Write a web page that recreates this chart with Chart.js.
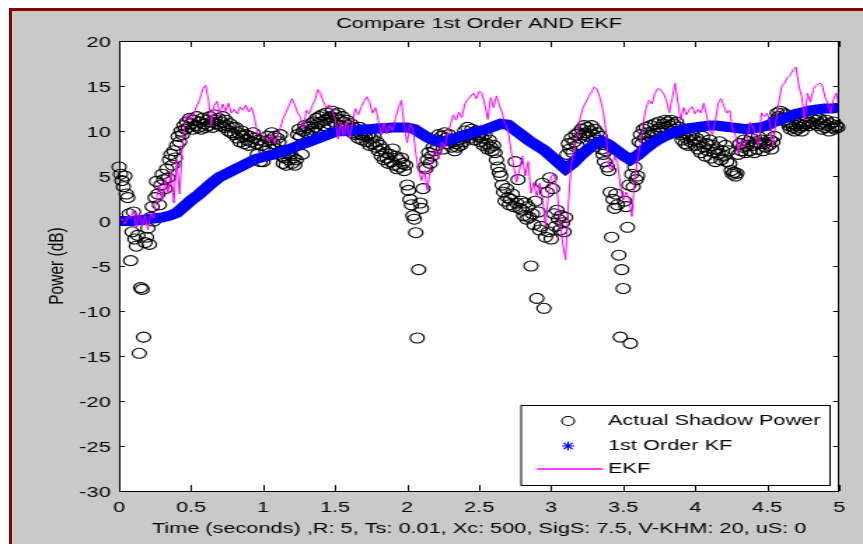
<!DOCTYPE html>
<html>
<head>
<meta charset="utf-8">
<title>Compare 1st Order AND EKF</title>
<script src="https://cdn.jsdelivr.net/npm/chart.js@4.4.0/dist/chart.umd.min.js"></script>
<style>
  html, body { margin: 0; padding: 0; background: #ffffff; }
  body { width: 863px; height: 544px; position: relative; overflow: hidden; }
  #figure {
    position: absolute; left: 9px; top: 8px; width: 854px; height: 536px;
    box-sizing: border-box; background: #c9c9c9;
    border-left: 3px solid #8b0000; border-top: 3px solid #8b0000;
  }
</style>
</head>
<body>
<div id="figure"></div>
<!-- the original screenshot is stretched sideways, so the canvas is too -->
<canvas id="shadowChart" width="616" height="544"
        style="position:absolute;left:0;top:0;width:863px;height:544px;"></canvas>
<script>
  "use strict";

  // ---- data ----
  const titleText = "Compare 1st Order AND EKF";
  const xLabelText = "Time (seconds) ,R: 5, Ts: 0.01, Xc: 500, SigS: 7.5, V-KHM: 20, uS: 0";
  const yLabelText = "Power (dB)";
  const seriesLabels = ["Actual Shadow Power", "1st Order KF", "EKF"];

  const xTicks = [0, 0.5, 1, 1.5, 2, 2.5, 3, 3.5, 4, 4.5, 5];
  const yTicks = [20, 15, 10, 5, 0, -5, -10, -15, -20, -25, -30];

  // sample spacing (s) of the lists below
  const actualStep = 0.01;
  const ekfStep = 0.02;
  const kfStep = 0.05;

  // circles, t = 0 .. 4.99 (one row = 0.2 s)
  const actualPower = [
    6.0, 5.2, 4.5, 3.8, 5.0, 3.0, 2.6, 0.8, -4.4, -1.2, 1.0, -2.0, -2.8, -1.6, -14.7, -7.4, -7.6, -12.9, -2.4, -1.8,
    -0.8, -2.6, 0.4, 1.6, 0.0, 2.6, 4.4, 3.0, 1.8, 4.0, 5.2, 4.6, 3.6, 5.8, 4.8, 6.8, 7.4, 6.2, 7.8, 7.0,
    8.4, 9.4, 8.8, 10.0, 9.6, 10.6, 10.2, 11.0, 10.4, 11.4, 10.8, 10.2, 11.2, 10.6, 11.6, 10.4, 11.0, 10.2, 11.4, 10.8,
    10.4, 11.2, 10.6, 11.6, 11.0, 10.4, 11.8, 11.2, 10.8, 11.4, 10.6, 11.0, 11.6, 10.4, 11.2, 10.6, 10.0, 10.8, 9.8, 10.4,
    9.6, 10.4, 9.2, 9.8, 8.8, 10.0, 9.4, 8.6, 9.6, 9.0, 8.4, 9.4, 8.8, 9.8, 9.2, 8.6, 7.4, 9.0, 6.6, 8.4,
    6.6, 8.8, 7.8, 9.4, 8.2, 9.0, 9.8, 8.6, 9.4, 8.0, 9.2, 8.8, 9.6, 7.2, 6.4, 7.0, 6.2, 7.6, 6.8, 7.4,
    6.4, 7.0, 6.2, 6.8, 9.6, 10.2, 9.4, 7.4, 10.0, 10.6, 9.8, 10.4, 9.6, 10.8, 10.2, 11.0, 10.4, 11.4, 10.8, 11.6,
    11.0, 11.8, 10.6, 11.2, 12.0, 11.4, 10.8, 11.6, 12.2, 11.0, 11.8, 11.4, 12.0, 11.2, 10.6, 11.6, 11.0, 10.4, 11.2, 10.6,
    10.2, 10.8, 9.8, 10.4, 9.6, 10.0, 9.2, 10.4, 9.6, 9.0, 9.8, 9.4, 8.8, 9.6, 8.4, 9.2, 8.6, 9.4, 8.2, 8.8,
    7.8, 8.4, 7.2, 8.0, 6.8, 7.6, 7.0, 6.4, 7.4, 6.6, 8.0, 6.2, 7.2, 5.8, 6.8, 6.0, 7.0, 6.4, 5.6, 6.2,
    4.0, 3.4, 2.4, 1.8, 0.6, 0.2, -1.3, -13.0, -5.4, 2.0, 1.4, 3.6, 6.0, 5.8, 6.8, 7.6, 6.4, 7.2, 8.2, 7.8,
    9.0, 8.4, 9.6, 8.8, 9.4, 8.0, 9.8, 9.2, 8.6, 9.6, 9.0, 8.2, 8.8, 7.8, 8.6, 8.2, 9.0, 8.4, 9.4, 8.8,
    10.0, 9.4, 10.4, 9.6, 9.2, 10.2, 9.8, 9.0, 10.0, 9.4, 9.6, 8.8, 9.2, 8.4, 9.6, 8.6, 8.0, 9.0, 8.2, 7.8,
    8.4, 7.6, 6.8, 6.0, 5.4, 5.0, 4.0, 3.2, 2.2, 3.6, 2.6, 1.8, 2.4, 3.0, 1.6, 6.6, 2.0, 4.6, 1.4, 2.2,
    1.2, 0.6, 2.0, 0.2, 1.6, 0.4, -5.0, 0.8, -0.4, 2.2, -8.6, 1.0, -1.0, -0.6, 4.2, -9.7, -1.8, 3.2, -1.2, 4.8,
    -2.0, 3.6, 0.8, -0.6, 1.2, 0.2, -1.0, 0.6, -0.2, -1.2, 0.4, 7.4, 8.6, 8.0, 9.2, 7.6, 8.8, 9.6, 8.4, 9.8,
    9.2, 10.2, 9.6, 10.6, 9.8, 10.4, 9.4, 10.0, 10.6, 9.6, 10.2, 9.0, 9.8, 8.6, 9.4, 8.0, 7.4, 6.6, 7.8, 6.0,
    5.6, 3.2, -1.8, 2.4, 1.4, 3.0, 1.8, -3.8, -12.9, -5.4, -7.5, 2.2, 1.6, -0.7, 4.0, -13.6, 5.2, 3.8, 6.0, 4.6,
    5.0, 8.8, 9.6, 8.6, 10.2, 9.2, 10.4, 9.8, 8.8, 10.6, 9.6, 10.0, 10.8, 9.4, 10.2, 11.0, 10.4, 9.8, 10.8, 11.2,
    10.4, 11.0, 10.6, 11.2, 10.0, 10.8, 10.2, 11.0, 9.8, 10.4, 9.6, 9.0, 9.8, 8.6, 9.2, 8.4, 9.4, 8.8, 9.6, 9.0,
    8.4, 9.2, 8.0, 8.8, 7.6, 9.4, 8.2, 7.2, 8.6, 7.8, 9.0, 7.0, 8.4, 7.6, 6.6, 8.0, 7.4, 8.8, 6.8, 7.8,
    7.2, 8.4, 6.6, 7.8, 6.4, 5.6, 5.2, 5.4, 5.0, 5.3, 7.4, 8.6, 7.8, 8.2, 9.0, 7.6, 8.4, 8.8, 7.8, 9.2,
    8.4, 7.6, 8.8, 8.0, 9.4, 8.6, 9.0, 7.8, 8.6, 8.2, 9.6, 8.4, 9.0, 8.0, 8.8, 9.4, 11.2, 12.0, 11.6, 12.2,
    11.4, 12.0, 11.2, 11.8, 11.0, 10.6, 10.2, 10.8, 10.4, 10.0, 10.6, 10.2, 10.8, 10.4, 10.0, 10.6, 11.0, 10.8, 11.2, 10.6,
    11.0, 11.4, 10.8, 11.6, 11.2, 10.6, 11.4, 10.8, 10.2, 11.0, 10.4, 11.2, 10.6, 10.0, 10.8, 10.4, 11.0, 10.2, 10.6, 10.4
  ];

  // blue band, t = 0 .. 5
  const kfPower = [
    0, 0, 0, 0.1, 0.2, 0.3, 0.4, 0.6, 0.9, 1.6,
    2.3, 2.9, 3.6, 4.3, 4.9, 5.3, 5.7, 6.1, 6.5, 6.9,
    7.1, 7.3, 7.5, 7.8, 8.1, 8.4, 8.7, 9.0, 9.3, 9.6,
    9.9, 10.0, 10.0, 10.1, 10.2, 10.2, 10.3, 10.3, 10.4, 10.4,
    10.4, 10.2, 9.7, 9.2, 8.9, 8.8, 9.0, 9.3, 9.5, 9.8,
    10.0, 10.2, 10.5, 10.8, 10.7, 10.1, 9.5, 8.9, 8.4, 7.9,
    7.2, 6.5, 5.8, 6.4, 7.2, 7.9, 8.5, 8.9, 8.5, 7.9,
    7.3, 6.8, 7.3, 8.0, 8.6, 9.1, 9.5, 9.8, 10.1, 10.3,
    10.4, 10.5, 10.6, 10.6, 10.5, 10.4, 10.3, 10.2, 10.3, 10.4,
    10.6, 11.0, 11.3, 11.6, 11.9, 12.1, 12.3, 12.4, 12.5, 12.5,
    12.6
  ];

  // magenta line, t = 0 .. 5
  const ekfPower = [
    0, 0.2, -0.3, 0.5, 0.3, 1.2, -0.8, 0.9, -0.5, 0.6,
    -1.0, 0.8, 0.3, 2.5, 4.0, 2.2, 4.8, 3.0, 5.5, 2.0,
    6.7, 3.0, 8.5, 11.5, 11.9, 11.2, 12.0, 12.8, 13.5, 14.6,
    15.1, 13.5, 10.6, 12.8, 13.3, 11.8, 13.0, 12.2, 13.1, 12.0,
    12.4, 11.9, 12.7, 12.3, 12.9, 12.1, 12.6, 11.5, 9.7, 9.8,
    9.4, 9.2, 8.8, 9.6, 8.6, 9.5, 10.4, 11.4, 12.1, 12.8,
    13.6, 12.9, 12.0, 11.5, 10.2, 12.3, 11.9, 12.8, 13.4, 14.6,
    14.1, 13.2, 12.6, 12.9, 12.2, 11.4, 9.1, 11.0, 9.4, 11.2,
    9.2, 10.9, 12.5, 11.8, 12.6, 13.3, 13.8, 13.2, 12.0, 12.6,
    11.2, 9.6, 10.9, 9.7, 10.7, 10.0, 11.5, 12.6, 13.4, 10.5,
    8.7, 10.8, 10.3, 7.5, 5.7, 4.5, 5.6, 3.4, 5.8, 7.4,
    7.9, 6.9, 8.8, 8.1, 9.6, 10.7, 11.8, 11.2, 12.1, 11.5,
    13.0, 13.5, 13.8, 14.2, 13.6, 14.4, 14.2, 12.9, 11.3, 13.7,
    12.6, 13.9, 12.9, 12.0, 10.8, 10.1, 8.0, 6.1, 4.3, 5.7,
    7.2, 5.0, 6.6, 3.1, 4.3, 2.7, 4.2, 2.6, -0.6, 2.8,
    4.9, 5.3, 3.5, 0.3, -2.5, -4.3, 2.0, 6.4, 7.9, 9.5,
    11.3, 12.5, 13.2, 13.8, 14.3, 14.9, 14.6, 13.6, 12.3, 10.1,
    6.0, 5.7, 7.2, 6.5, 4.0, 2.3, 3.2, 2.6, 0.5, 4.6,
    6.8, 8.6, 11.0, 12.6, 13.4, 13.0, 14.2, 14.7, 14.6, 14.2,
    13.4, 12.0, 13.6, 15.3, 13.2, 11.2, 12.6, 11.8, 12.4, 12.7,
    11.9, 12.4, 12.0, 13.1, 11.7, 10.1, 9.6, 11.2, 13.1, 13.6,
    12.7, 12.0, 12.3, 10.1, 9.5, 7.5, 9.0, 8.3, 9.0, 11.0,
    10.6, 9.2, 8.3, 12.0, 11.6, 12.0, 10.8, 8.3, 11.0, 13.1,
    14.9, 15.3, 15.9, 16.2, 16.8, 17.1, 15.0, 13.8, 11.2, 14.2,
    13.2, 14.6, 15.1, 15.3, 15.2, 13.8, 13.1, 12.0, 13.5, 14.2,
    12.6
  ];

  const FONT = '"Liberation Sans", Arial, sans-serif';
  const FONT_SIZE = 15.5;
  const COLORS = { actual: "#000000", kf: "#0000ff", ekf: "#ff00ff" };

  // pair each sample with its time stamp
  function toPoints(values, step) {
    return values.map((v, i) => ({ x: +(i * step).toFixed(2), y: v }));
  }

  // MATLAB-style axes: white box, inward ticks, labels, legend
  const matlabAxes = {
    id: "matlabAxes",
    beforeDraw(chart) {
      const { ctx, chartArea: a } = chart;
      ctx.save();
      ctx.fillStyle = "#ffffff";
      ctx.fillRect(a.left, a.top, a.right - a.left, a.bottom - a.top);
      ctx.restore();
    },
    afterDatasetsDraw(chart) {
      const { ctx, chartArea: a, scales } = chart;
      ctx.save();
      ctx.strokeStyle = "#000000";
      ctx.lineWidth = 1;
      ctx.strokeRect(a.left + 0.5, a.top + 0.5, a.right - a.left - 1, a.bottom - a.top);

      ctx.beginPath();
      scales.x.ticks.forEach((t) => {
        const px = Math.round(scales.x.getPixelForValue(t.value)) + 0.5;
        ctx.moveTo(px, a.bottom); ctx.lineTo(px, a.bottom - 6);
        ctx.moveTo(px, a.top); ctx.lineTo(px, a.top + 6);
      });
      scales.y.ticks.forEach((t) => {
        const py = Math.round(scales.y.getPixelForValue(t.value)) + 0.5;
        ctx.moveTo(a.left, py); ctx.lineTo(a.left + 4.2, py);
        ctx.moveTo(a.right, py); ctx.lineTo(a.right - 4.2, py);
      });
      ctx.stroke();

      // title and axis labels
      ctx.fillStyle = "#000000";
      ctx.font = FONT_SIZE + "px " + FONT;
      ctx.textAlign = "center";
      ctx.textBaseline = "middle";
      const cx = (a.left + a.right) / 2;
      ctx.fillText(titleText, cx, 23.5);
      ctx.fillText(xLabelText, cx, 529);
      ctx.save();
      ctx.translate(40.7, (a.top + a.bottom) / 2);
      ctx.rotate(-Math.PI / 2);
      ctx.fillText(yLabelText, 0, 0);
      ctx.restore();

      this.drawLegend(ctx, chart);
      ctx.restore();
    },
    drawLegend(ctx, chart) {
      const ds = chart.data.datasets;
      const box = { left: 372, top: 405.5, right: 592.5, bottom: 485.5 };
      ctx.fillStyle = "#ffffff";
      ctx.fillRect(box.left, box.top, box.right - box.left, box.bottom - box.top);
      ctx.strokeStyle = "#000000";
      ctx.lineWidth = 1;
      ctx.strokeRect(box.left, box.top, box.right - box.left, box.bottom - box.top);

      const rows = [421, 446, 469];
      const markX = 405.5;
      ctx.font = FONT_SIZE + "px " + FONT;
      ctx.textAlign = "left";
      ctx.textBaseline = "middle";

      // circle
      ctx.strokeStyle = COLORS.actual;
      ctx.lineWidth = 1.1;
      ctx.beginPath();
      ctx.arc(markX, rows[0], 4.5, 0, Math.PI * 2);
      ctx.stroke();

      // asterisk
      ctx.strokeStyle = COLORS.kf;
      ctx.lineWidth = 1.2;
      ctx.beginPath();
      for (let k = 0; k < 4; k++) {
        const ang = k * Math.PI / 4;
        const dx = Math.sin(ang) * 4.5, dy = Math.cos(ang) * 4.5;
        ctx.moveTo(markX - dx, rows[1] - dy);
        ctx.lineTo(markX + dx, rows[1] + dy);
      }
      ctx.stroke();

      // line
      ctx.strokeStyle = COLORS.ekf;
      ctx.lineWidth = 1.5;
      ctx.beginPath();
      ctx.moveTo(383.3, rows[2]);
      ctx.lineTo(430.4, rows[2]);
      ctx.stroke();

      ctx.fillStyle = "#000000";
      rows.forEach((y, i) => ctx.fillText(ds[i].label, 434, y));
    },
  };

  const chart = new Chart(document.getElementById("shadowChart"), {
    type: "scatter",
    data: {
      datasets: [
        {
          label: seriesLabels[0],
          data: toPoints(actualPower, actualStep),
          showLine: false,
          pointStyle: "circle",
          pointRadius: 5,
          pointBorderWidth: 1.1,
          borderColor: COLORS.actual,
          backgroundColor: "rgba(0,0,0,0)",
          pointBackgroundColor: "rgba(0,0,0,0)",
          clip: false,
          order: 3,
        },
        {
          label: seriesLabels[1],
          data: toPoints(kfPower, kfStep),
          showLine: true,
          borderColor: COLORS.kf,
          borderWidth: 10,
          pointRadius: 0,
          tension: 0,
          order: 2,
        },
        {
          label: seriesLabels[2],
          data: toPoints(ekfPower, ekfStep),
          showLine: true,
          borderColor: COLORS.ekf,
          borderWidth: 1,
          pointRadius: 0,
          tension: 0,
          order: 1,
        },
      ],
    },
    options: {
      responsive: false,
      animation: false,
      devicePixelRatio: 1,
      events: [],
      layout: { padding: { left: 0, right: 17, top: 41, bottom: 0 } },
      plugins: { legend: { display: false }, tooltip: { enabled: false } },
      scales: {
        x: {
          type: "linear",
          min: xTicks[0],
          max: xTicks[xTicks.length - 1],
          afterBuildTicks: (scale) => { scale.ticks = xTicks.map((v) => ({ value: v })); },
          afterFit: (scale) => { scale.height = 53; },
          grid: { display: false, drawTicks: false },
          border: { display: false },
          ticks: {
            color: "#000000", padding: 7, maxRotation: 0, autoSkip: false,
            font: { family: FONT, size: FONT_SIZE },
            callback: (value) => String(value),
          },
        },
        y: {
          type: "linear",
          min: yTicks[yTicks.length - 1],
          max: yTicks[0],
          afterBuildTicks: (scale) => { scale.ticks = yTicks.map((v) => ({ value: v })); },
          afterFit: (scale) => { scale.width = 85; },
          grid: { display: false, drawTicks: false },
          border: { display: false },
          ticks: {
            color: "#000000", padding: 6, labelOffset: 1.5,
            font: { family: FONT, size: FONT_SIZE },
            callback: (value) => String(value),
          },
        },
      },
    },
    plugins: [matlabAxes],
  });
</script>
</body>
</html>
